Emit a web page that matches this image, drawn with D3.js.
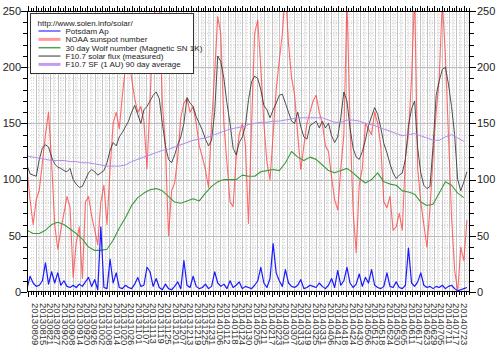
<!DOCTYPE html>
<html>
<head>
<meta charset="utf-8">
<title>Solar data</title>
<script src="https://d3js.org/d3.v7.min.js"></script>
<style>
  body { margin: 0; background: #fff; }
  text { font-family: "Liberation Sans", Arial, sans-serif; }
</style>
</head>
<body>
<div id="chart"></div>
<script>
// dates
var startDate = new Date(2013, 7, 2);
var endDate = new Date(2014, 6, 28);
var firstLabel = new Date(2013, 7, 9);
var lastLabel = new Date(2014, 6, 23);
var labelStep = 6;     // days between date labels
var fastStep = 2.5;    // days between points of the noisy series
var slowStep = 5;      // days between points of the smoothed series

var potsdamAp = [3,14,8,5,6,10,26,7,18,8,17,6,10,5,4,6,4,7,5,9,13,5,11,2,58,4,3,29,8,17,
  4,3,6,4,3,7,13,5,6,22,18,5,12,4,2,7,3,2,5,9,3,28,6,4,14,5,3,4,7,3,
  5,18,8,5,7,3,10,4,6,9,3,5,4,3,6,10,22,8,4,12,43,17,10,5,20,8,5,4,6,11,
  3,4,6,5,4,8,5,3,6,12,4,19,6,10,22,8,4,7,16,5,13,8,20,6,4,3,5,17,5,4,
  9,4,3,6,39,8,5,9,17,6,4,5,3,5,4,6,3,5,6,3,1,2,3,4];

var sunspotNumber = [110,82,60,82,91,115,140,160,115,60,38,55,70,85,75,13,44,58,12,80,85,68,55,42,80,95,60,109,150,160,
  145,175,200,210,190,172,160,165,152,110,170,240,255,262,168,130,50,90,97,120,155,168,172,160,165,150,130,120,109,93,
  150,195,245,230,150,115,80,76,120,140,150,130,61,150,230,242,200,150,115,100,140,180,206,230,270,221,191,175,140,109,
  130,150,160,170,175,160,150,130,125,102,82,73,110,140,260,150,73,35,95,110,150,145,140,160,150,130,80,75,85,55,
  58,70,55,120,140,190,265,110,80,60,40,75,120,160,190,260,210,140,67,20,0,40,28,64];

var solarFlux = [113,105,104,103,118,128,131,129,120,114,111,110,108,107,110,100,96,93,94,100,106,109,107,104,106,108,115,126,133,130,
  138,142,147,152,160,166,158,150,162,165,170,175,178,172,150,130,118,115,122,131,138,150,173,168,165,156,150,144,136,130,
  135,160,210,205,190,168,150,128,122,133,138,148,171,187,192,190,180,166,162,155,162,168,175,176,168,160,152,150,160,147,
  138,136,148,150,152,146,152,146,150,139,133,138,155,178,170,146,128,120,118,125,135,148,156,164,158,146,132,124,114,106,
  101,104,106,118,148,163,170,128,106,95,92,94,130,175,188,198,200,185,165,140,100,90,98,107];

var wolfNumber = [55,52,52,55,60,62,60,56,52,47,40,37,37,38,46,57,66,77,84,88,91,92,90,85,80,79,81,83,81,88,
  94,98,100,100,100,104,103,103,107,108,109,108,115,125,120,117,120,118,113,108,106,108,110,106,101,97,100,106,98,96,
  95,90,89,87,80,77,78,88,98,95,88,84];

var fluxAverage = [121,120,119,118,117,117,117,116,116,115,115,114,113,112,112,112,113,116,118,120,122,124,126,127,129,131,133,135,136,137,
  139,141,143,145,146,147,149,150,151,151,152,152,153,154,155,155,155,155,155,153,151,151,153,153,152,150,149,147,145,143,
  141,139,140,141,139,137,135,135,138,140,137,134];

var yTicks = [0, 50, 100, 150, 200, 250];
var legendTitle = "http://www.solen.info/solar/";
var legendNames = ["Potsdam Ap", "NOAA sunspot number", "30 day Wolf number (Magnetic SN 1K)",
  "F10.7 solar flux (measured)", "F10.7 SF (1 AU) 90 day average"];

var W = 499, H = 351;
var m = { left: 27, right: 470, top: 11, bottom: 292 };

var svg = d3.select("#chart").append("svg")
  .attr("width", W).attr("height", H);

var x = d3.scaleTime().domain([startDate, endDate]).range([m.left, m.right]);
var y = d3.scaleLinear().domain([0, 250]).range([m.bottom, m.top]);

function dayAt(i, step) {
  return new Date(startDate.getTime() + i * step * 864e5);
}
function toPoints(values, step) {
  return values.map(function(v, i) { return { date: dayAt(i, step), value: v }; });
}

// label dates every 6 days, small ticks every 2 days
var labelDates = [];
for (var k = 0; d3.timeDay.offset(firstLabel, k * labelStep) <= lastLabel; k++) {
  labelDates.push(d3.timeDay.offset(firstLabel, k * labelStep));
}
var tickDates = [];
for (var j = -3; d3.timeDay.offset(firstLabel, j * 2) <= endDate; j++) {
  var td = d3.timeDay.offset(firstLabel, j * 2);
  if (td >= startDate) tickDates.push({ date: td, major: j % 3 === 0 });
}

// grid
var grid = svg.append("g");
grid.selectAll(".band").data(labelDates).enter().append("line")
  .attr("x1", function(d) { return x(d3.timeDay.offset(d, 3)); })
  .attr("x2", function(d) { return x(d3.timeDay.offset(d, 3)); })
  .attr("y1", m.top).attr("y2", m.bottom)
  .attr("stroke", "#f0f0f0").attr("stroke-width", 2);
grid.selectAll(".vdot").data(tickDates.filter(function(d) { return !d.major; })).enter().append("line")
  .attr("x1", function(d) { return Math.round(x(d.date)) + 0.5; })
  .attr("x2", function(d) { return Math.round(x(d.date)) + 0.5; })
  .attr("y1", m.top).attr("y2", m.bottom)
  .attr("stroke", "#dadada").attr("stroke-dasharray", "1,2");
d3.range(10, 250, 10).forEach(function(v) {
  grid.append("line")
    .attr("x1", m.left).attr("x2", m.right)
    .attr("y1", Math.round(y(v)) + 0.5).attr("y2", Math.round(y(v)) + 0.5)
    .attr("stroke", v % 50 === 0 ? "#bcbcbc" : "#d4d4d4")
    .attr("stroke-dasharray", v % 50 === 0 ? null : "1,2");
});
grid.selectAll(".vline").data(labelDates).enter().append("line")
  .attr("x1", function(d) { return Math.round(x(d)) + 0.5; })
  .attr("x2", function(d) { return Math.round(x(d)) + 0.5; })
  .attr("y1", m.top).attr("y2", m.bottom)
  .attr("stroke", "#c4c4c4");

// series
svg.append("clipPath").attr("id", "plot")
  .append("rect").attr("x", m.left).attr("y", m.top)
  .attr("width", m.right - m.left).attr("height", m.bottom - m.top);

var line = d3.line().x(function(d) { return x(d.date); }).y(function(d) { return y(d.value); });
var plot = svg.append("g").attr("clip-path", "url(#plot)");

function drawSeries(values, step, color, width, opacity) {
  plot.append("path")
    .datum(toPoints(values, step))
    .attr("fill", "none")
    .attr("stroke", color)
    .attr("stroke-width", width)
    .attr("stroke-opacity", opacity)
    .attr("stroke-linejoin", "round")
    .attr("d", line);
}
drawSeries(sunspotNumber, fastStep, "#ff3b3b", 1.1, 0.75);
drawSeries(solarFlux, fastStep, "#3c3c3c", 1, 0.9);
drawSeries(wolfNumber, slowStep, "#3a9a3a", 1.1, 1);
drawSeries(fluxAverage, slowStep, "#b58af0", 1, 1);
drawSeries(potsdamAp, fastStep, "#1a1aff", 1.2, 1);

// frame and ticks
svg.append("rect")
  .attr("x", m.left + 0.5).attr("y", m.top + 0.5)
  .attr("width", m.right - m.left - 1).attr("height", m.bottom - m.top - 1)
  .attr("fill", "none").attr("stroke", "#000");

var ticks = svg.append("g").attr("stroke", "#000");
tickDates.forEach(function(t) {
  var tx = Math.round(x(t.date)) + 0.5;
  var len = t.major ? 5 : 3;
  ticks.append("line").attr("x1", tx).attr("x2", tx).attr("y1", m.bottom).attr("y2", m.bottom + len);
  ticks.append("line").attr("x1", tx).attr("x2", tx).attr("y1", m.top).attr("y2", m.top - len);
});
d3.range(0, 251, 10).forEach(function(v) {
  var ty = Math.round(y(v)) + 0.5;
  var len = v % 50 === 0 ? 6 : 4;
  ticks.append("line").attr("x1", m.left).attr("x2", m.left - len).attr("y1", ty).attr("y2", ty);
  ticks.append("line").attr("x1", m.right).attr("x2", m.right + len).attr("y1", ty).attr("y2", ty);
});

svg.selectAll(".ylab").data(yTicks).enter().append("text")
  .attr("x", m.left - 6).attr("y", function(d) { return y(d); })
  .attr("dy", "0.35em").attr("text-anchor", "end")
  .attr("font-size", 11).attr("fill", "#222")
  .text(function(d) { return d; });
svg.selectAll(".ylab2").data(yTicks).enter().append("text")
  .attr("x", m.right + 7).attr("y", function(d) { return y(d); })
  .attr("dy", "0.35em").attr("text-anchor", "start")
  .attr("font-size", 11).attr("fill", "#222")
  .text(function(d) { return d; });

var fmt = d3.timeFormat("%Y%m%d");
svg.selectAll(".xlab").data(labelDates).enter().append("text")
  .attr("transform", function(d) { return "translate(" + x(d) + "," + (m.bottom + 11) + ") rotate(90)"; })
  .attr("dy", "0.35em")
  .attr("font-size", 9.5).attr("fill", "#333")
  .text(function(d) { return fmt(d); });

// legend
var legend = svg.append("g").attr("transform", "translate(30.5,13.5)");
legend.append("rect").attr("width", 163).attr("height", 60)
  .attr("fill", "#fff").attr("stroke", "#333");
legend.append("text").attr("x", 7).attr("y", 9.5).attr("dy", "0.35em")
  .attr("font-size", 8).attr("fill", "#222").text(legendTitle);
var legendColors = ["#5a5aff", "#ff9a9a", "#5aa05a", "#555", "#c49af5"];
var legendWidths = [1.5, 3, 1.5, 1.2, 3];
legendNames.forEach(function(name, i) {
  var ly = 17.5 + i * 8.35;
  legend.append("line").attr("x1", 8).attr("x2", 30).attr("y1", ly).attr("y2", ly)
    .attr("stroke", legendColors[i]).attr("stroke-width", legendWidths[i]);
  legend.append("text").attr("x", 35).attr("y", ly).attr("dy", "0.35em")
    .attr("font-size", 8).attr("fill", "#222").text(name);
});
</script>
</body>
</html>
